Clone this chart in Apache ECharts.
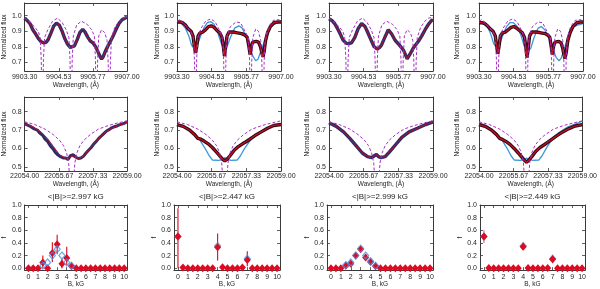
<!DOCTYPE html>
<html><head><meta charset="utf-8">
<script src="https://cdn.jsdelivr.net/npm/echarts@6/dist/echarts.min.js"></script>
<style>html,body{margin:0;padding:0;background:#fff}#c{width:600px;height:289px}</style>
</head><body><div id="c"></div>
<script>
// ---------- tick labels ----------
const wlTicksTop = [9903.30, 9904.5333, 9905.7667, 9907.00];
const wlTicksMid = [22054.00, 22055.6667, 22057.3333, 22059.00];
const fluxTicksTop = [0.7, 0.8, 0.9, 1.0];
const fluxTicksMid = [0.5, 0.6, 0.7, 0.8];
const fTicks = [0, 0.2, 0.4, 0.6, 0.8, 1.0];
const bTicks = [0,1,2,3,4,5,6,7,8,9,10];
const bMeanLabels = ['<|B|>=2.997 kG', '<|B|>=2.447 kG', '<|B|>=2.999 kG', '<|B|>=2.449 kG'];

// ---------- row 1 : 9903-9907 A ----------
const wlObs1 = [9903.30,9903.40,9903.50,9903.60,9903.70,9903.80,9903.90,9904.00,9904.08,9904.15,9904.25,9904.35,9904.45,9904.55,9904.65,9904.75,9904.85,9904.95,9905.02,9905.10,9905.20,9905.30,9905.40,9905.48,9905.58,9905.68,9905.78,9905.88,9905.96,9906.03,9906.08,9906.14,9906.22,9906.32,9906.42,9906.52,9906.62,9906.72,9906.82,9906.92,9907.00];
const fluxObs1 = [0.985,0.968,0.947,0.908,0.882,0.852,0.832,0.824,0.830,0.846,0.888,0.933,0.952,0.940,0.902,0.853,0.817,0.796,0.790,0.806,0.846,0.893,0.912,0.896,0.862,0.836,0.823,0.796,0.764,0.736,0.721,0.736,0.772,0.808,0.842,0.878,0.918,0.953,0.974,0.984,0.990];

const wlObs2 = [9903.30,9903.40,9903.50,9903.60,9903.70,9903.80,9903.87,9903.92,9903.96,9904.00,9904.05,9904.12,9904.22,9904.32,9904.42,9904.52,9904.62,9904.72,9904.82,9904.90,9904.95,9904.99,9905.03,9905.08,9905.15,9905.30,9905.45,9905.60,9905.72,9905.80,9905.86,9905.90,9905.94,9905.99,9906.05,9906.12,9906.20,9906.27,9906.32,9906.36,9906.40,9906.45,9906.52,9906.62,9906.75,9906.90,9907.00];
const fluxObs2 = [0.960,0.960,0.955,0.940,0.915,0.900,0.870,0.800,0.760,0.800,0.870,0.890,0.895,0.910,0.930,0.935,0.925,0.905,0.890,0.860,0.800,0.740,0.800,0.870,0.895,0.895,0.890,0.885,0.875,0.860,0.800,0.750,0.800,0.830,0.840,0.835,0.830,0.800,0.760,0.735,0.770,0.840,0.890,0.930,0.955,0.960,0.960];
const wlBlue2 = [9903.30,9903.45,9903.60,9903.72,9903.82,9903.92,9904.02,9904.12,9904.25,9904.38,9904.50,9904.62,9904.75,9904.88,9904.98,9905.08,9905.20,9905.35,9905.50,9905.62,9905.75,9905.88,9906.00,9906.10,9906.18,9906.28,9906.38,9906.50,9906.62,9906.75,9906.90,9907.00];
const fluxBlue2 = [0.960,0.950,0.920,0.870,0.810,0.790,0.810,0.860,0.920,0.955,0.962,0.945,0.890,0.820,0.785,0.800,0.860,0.920,0.935,0.920,0.870,0.800,0.740,0.710,0.720,0.770,0.820,0.880,0.925,0.945,0.955,0.960];

const wlObs3 = [9903.30,9903.40,9903.50,9903.60,9903.68,9903.80,9903.92,9904.00,9904.10,9904.22,9904.34,9904.46,9904.58,9904.66,9904.75,9904.90,9905.01,9905.10,9905.17,9905.29,9905.41,9905.53,9905.65,9905.80,9905.95,9906.04,9906.08,9906.18,9906.30,9906.48,9906.60,9906.72,9906.84,9906.94,9907.00];
const fluxObs3 = [0.980,0.970,0.950,0.918,0.890,0.843,0.822,0.820,0.825,0.860,0.918,0.950,0.930,0.900,0.862,0.802,0.786,0.795,0.812,0.862,0.910,0.882,0.842,0.812,0.778,0.740,0.722,0.752,0.792,0.835,0.870,0.910,0.945,0.968,0.975];

const wlObs4 = [9903.30,9903.40,9903.50,9903.60,9903.70,9903.80,9903.88,9903.93,9903.97,9904.01,9904.06,9904.14,9904.24,9904.34,9904.44,9904.54,9904.64,9904.74,9904.84,9904.92,9904.97,9905.01,9905.05,9905.10,9905.18,9905.35,9905.50,9905.65,9905.75,9905.82,9905.87,9905.91,9905.95,9906.00,9906.07,9906.14,9906.22,9906.28,9906.32,9906.36,9906.40,9906.46,9906.54,9906.64,9906.78,9906.92,9907.00];
const fluxObs4 = [0.955,0.955,0.950,0.935,0.915,0.900,0.870,0.800,0.755,0.800,0.870,0.890,0.895,0.910,0.925,0.930,0.920,0.905,0.890,0.860,0.790,0.730,0.790,0.870,0.895,0.895,0.890,0.885,0.875,0.860,0.800,0.750,0.800,0.830,0.840,0.835,0.825,0.790,0.750,0.725,0.760,0.840,0.890,0.930,0.955,0.960,0.960];
const wlBlue4 = [9903.30,9903.45,9903.60,9903.72,9903.82,9903.92,9904.02,9904.14,9904.28,9904.40,9904.52,9904.64,9904.78,9904.92,9905.04,9905.14,9905.26,9905.40,9905.52,9905.64,9905.78,9905.92,9906.05,9906.15,9906.22,9906.32,9906.44,9906.56,9906.68,9906.80,9906.92,9907.00];
const fluxBlue4 = [0.960,0.955,0.930,0.880,0.820,0.800,0.815,0.870,0.930,0.955,0.955,0.935,0.880,0.800,0.770,0.790,0.860,0.920,0.930,0.910,0.860,0.790,0.730,0.710,0.725,0.780,0.850,0.900,0.930,0.940,0.945,0.950];

const wlDashA = [9903.30,9903.51,9903.68,9903.80,9903.86,9903.90,9903.94,9903.98,9904.02,9904.14,9904.31,9904.49,9904.66,9904.80,9904.90,9904.94,9904.98,9905.02,9905.06,9905.18,9905.35,9905.56,9905.72,9905.82,9905.86,9905.90,9905.94,9905.98,9906.08,9906.20,9906.28,9906.32,9906.36,9906.40,9906.44,9906.56,9906.71,9906.85,9907.00];
const fluxDashA = [0.985,0.955,0.925,0.895,0.860,0.720,0.300,0.720,0.860,0.910,0.965,0.985,0.955,0.910,0.860,0.720,0.300,0.720,0.870,0.940,0.965,0.945,0.910,0.870,0.720,0.300,0.720,0.870,0.910,0.890,0.840,0.700,0.300,0.700,0.860,0.925,0.965,0.985,0.990];
const wlDashB = [9903.30,9903.40,9903.52,9903.65,9903.78,9903.88,9903.92,9903.96,9904.00,9904.04,9904.16,9904.32,9904.50,9904.66,9904.80,9904.92,9904.96,9905.00,9905.04,9905.08,9905.20,9905.40,9905.56,9905.72,9905.84,9905.88,9905.92,9905.96,9906.00,9906.10,9906.20,9906.28,9906.32,9906.36,9906.40,9906.44,9906.56,9906.72,9906.88,9907.00];
const fluxDashB = [0.965,0.975,0.955,0.930,0.900,0.860,0.720,0.300,0.720,0.860,0.920,0.965,0.980,0.960,0.910,0.860,0.720,0.300,0.720,0.870,0.930,0.960,0.955,0.900,0.860,0.720,0.300,0.720,0.860,0.915,0.900,0.840,0.700,0.300,0.700,0.860,0.930,0.970,0.975,0.970];

// ---------- row 2 : 22054-22059 A ----------
const wlObs5 = [22054.00,22054.12,22054.25,22054.38,22054.50,22054.62,22054.75,22054.88,22055.00,22055.12,22055.25,22055.38,22055.50,22055.62,22055.75,22055.88,22056.00,22056.12,22056.25,22056.38,22056.50,22056.62,22056.75,22056.88,22057.00,22057.12,22057.25,22057.38,22057.50,22057.62,22057.75,22057.88,22058.00,22058.12,22058.25,22058.38,22058.50,22058.62,22058.75,22058.88,22059.00];
const fluxObs5 = [0.735,0.728,0.722,0.712,0.705,0.700,0.682,0.672,0.650,0.638,0.615,0.598,0.578,0.565,0.555,0.548,0.548,0.540,0.562,0.565,0.552,0.545,0.548,0.558,0.575,0.590,0.605,0.625,0.638,0.655,0.668,0.682,0.695,0.702,0.712,0.718,0.722,0.728,0.732,0.738,0.745];
const wlFit5 = [22054.00,22054.40,22054.80,22055.10,22055.40,22055.70,22055.95,22056.15,22056.30,22056.45,22056.65,22056.90,22057.20,22057.50,22057.85,22058.25,22058.65,22059.00];
const fluxFit5 = [0.732,0.718,0.688,0.655,0.610,0.565,0.548,0.548,0.558,0.552,0.545,0.560,0.600,0.640,0.680,0.710,0.728,0.742];

const wlObs6 = [22054.00,22054.30,22054.60,22054.85,22055.00,22055.15,22055.30,22055.50,22055.70,22055.90,22056.05,22056.20,22056.30,22056.40,22056.55,22056.75,22056.95,22057.15,22057.30,22057.50,22057.75,22058.05,22058.35,22058.65,22059.00];
const fluxObs6 = [0.730,0.720,0.700,0.675,0.655,0.650,0.640,0.625,0.605,0.580,0.560,0.540,0.532,0.540,0.560,0.590,0.610,0.625,0.635,0.650,0.670,0.690,0.710,0.725,0.730];
const wlBlue6 = [22054.00,22054.40,22054.80,22055.10,22055.35,22055.55,22055.70,22056.00,22056.20,22056.30,22056.40,22056.60,22056.90,22057.05,22057.25,22057.50,22057.85,22058.30,22058.70,22059.00];
const fluxBlue6 = [0.730,0.715,0.680,0.645,0.600,0.560,0.537,0.535,0.540,0.550,0.540,0.535,0.537,0.560,0.600,0.640,0.680,0.710,0.725,0.735];

const wlObs7 = [22054.00,22054.35,22054.70,22055.00,22055.30,22055.60,22055.85,22056.05,22056.18,22056.28,22056.38,22056.50,22056.70,22056.90,22057.20,22057.50,22057.85,22058.25,22058.65,22059.00];
const fluxObs7 = [0.740,0.720,0.690,0.655,0.615,0.575,0.555,0.550,0.560,0.567,0.555,0.550,0.555,0.580,0.620,0.660,0.690,0.710,0.730,0.745];

const wlObs8 = [22054.00,22054.30,22054.60,22054.85,22055.00,22055.15,22055.30,22055.50,22055.70,22055.90,22056.05,22056.20,22056.30,22056.40,22056.55,22056.75,22056.95,22057.15,22057.30,22057.50,22057.75,22058.05,22058.35,22058.65,22059.00];
const fluxObs8 = [0.730,0.720,0.700,0.675,0.655,0.648,0.638,0.622,0.600,0.575,0.555,0.535,0.525,0.535,0.555,0.585,0.605,0.620,0.632,0.648,0.668,0.690,0.708,0.722,0.730];
const wlBlue8 = [22054.00,22054.40,22054.80,22055.10,22055.35,22055.55,22055.70,22056.00,22056.20,22056.30,22056.40,22056.60,22056.90,22057.05,22057.25,22057.50,22057.85,22058.30,22058.70,22059.00];
const fluxBlue8 = [0.740,0.722,0.685,0.648,0.602,0.560,0.537,0.535,0.540,0.548,0.540,0.535,0.537,0.560,0.600,0.645,0.685,0.718,0.735,0.748];

const wlDashR2 = [22054.00,22054.50,22055.00,22055.40,22055.70,22055.90,22056.05,22056.15,22056.30,22056.45,22056.55,22056.70,22056.90,22057.20,22057.60,22058.10,22058.60,22059.00];
const fluxDashR2 = [0.745,0.730,0.705,0.675,0.645,0.615,0.575,0.520,0.250,0.520,0.575,0.615,0.645,0.675,0.705,0.725,0.740,0.750];

// ---------- row 3 : field distributions (null = no open marker) ----------
const bField = [0,0.5,1,1.5,2,2.5,3,3.5,4,4.5,5,5.5,6,6.5,7,7.5,8,8.5,9,9.5,10];
const fRed1  = [0,0,0,0.09,0,0.24,0.38,0.07,0.16,0.03,0,0,0,0,0,0,0,0,0,0,0];
const fBlue1 = [null,null,null,0.04,0.09,0.20,0.30,0.20,0.09,0.04,null,null,null,null,null,null,null,null,null,null,null];
const errB1 = [1.5,2.5,3,3.5,4,4.5], errLo1 = [0,0.10,0.22,0,0.05,0], errHi1 = [0.20,0.41,0.53,0.15,0.34,0.06];
const fRed2  = [0.5,0.01,0,0,0,0,0,0,0.33,0.015,0,0,0,0.01,0.13,0,0,0,0,0,0];
const fBlue2 = [0.5,null,null,null,null,null,null,null,0.35,null,null,null,null,null,0.15,null,null,null,null,null,null];
const errB2 = [0,4,7], errLo2 = [0,0.12,0.03], errHi2 = [0.95,0.55,0.27];
const fRed3  = [0,0,0,0.04,0.07,0.20,0.30,0.17,0.10,0.03,0,0,0,0,0,0,0,0,0,0,0];
const fBlue3 = [null,null,null,0.05,0.09,0.20,0.31,0.20,0.11,0.04,null,null,null,null,null,null,null,null,null,null,null];
const errB3 = [1.5,2,2.5,3,3.5,4,4.5], errLo3 = [0,0.02,0.16,0.26,0.12,0.05,0], errHi3 = [0.10,0.12,0.24,0.34,0.22,0.15,0.06];
const fRed4  = [0.5,0.005,0,0,0,0,0,0,0.34,0.005,0,0,0,0.005,0.14,0,0,0,0,0,0];
const fBlue4 = [0.5,null,null,null,null,null,null,null,0.35,null,null,null,null,null,0.15,null,null,null,null,null,null];
const errB4 = [0,4,7], errLo4 = [0.40,0.29,0.08], errHi4 = [0.60,0.41,0.20];

// ---------- layout / style ----------
const zip = (a, b) => a.map((v, i) => [v, b[i]]);
const FONT = 'Liberation Sans, Arial, sans-serif';
const TXT = '#262626';
const AX = '#3a3a3a';
const RED = '#c40e24', BLUE = '#3b97da', DASH = '#a52fc6';
const colsTop = [[21,106],[177,104],[329,104],[479,104]];
const colsBot = [[21,106],[174,106],[327,106],[480,105]];
const rows = [[3,68],[97,74],[205,67]];
const yNameGap = [12, 16, 18, 18];

const grids = [], xAxes = [], yAxes = [], series = [];

function panel(r, c, cfg) {
  const g = grids.length;
  const [left, width] = r === 2 ? colsBot[c] : colsTop[c];
  const [top, height] = rows[r];
  grids.push({left, top, width, height});
  const line = {show: true, onZero: false, lineStyle: {color: AX, width: 1}};
  const tk = v => ({show: true, inside: true, length: 3, customValues: v, lineStyle: {color: AX, width: 0.8}});
  const nameStyle = {fontSize: 6.5, color: TXT, fontFamily: FONT};
  xAxes.push({gridIndex: g, type: 'value', position: 'bottom', min: cfg.xmin, max: cfg.xmax,
    axisLine: line, axisTick: tk(cfg.xticks), splitLine: {show: false},
    axisLabel: {customValues: cfg.xticks, formatter: cfg.xfmt, fontSize: 7, color: TXT, fontFamily: FONT, margin: cfg.xmargin},
    name: cfg.xname, nameLocation: 'middle', nameGap: cfg.xgap, nameTextStyle: nameStyle});
  xAxes.push({gridIndex: g, type: 'value', position: 'top', min: cfg.xmin, max: cfg.xmax,
    axisLine: line, axisTick: tk(cfg.xticks), splitLine: {show: false}, axisLabel: {show: false},
    name: cfg.title || '', nameLocation: 'middle', nameGap: 4,
    nameTextStyle: {fontSize: 8, color: TXT, fontFamily: FONT}});
  yAxes.push({gridIndex: g, type: 'value', position: 'left', min: cfg.ymin, max: cfg.ymax,
    axisLine: line, axisTick: tk(cfg.yticks), splitLine: {show: false},
    axisLabel: {customValues: cfg.yticks, formatter: v => v.toFixed(1), fontSize: 7, color: TXT, fontFamily: FONT, margin: 3},
    name: cfg.yname, nameLocation: 'middle', nameGap: cfg.ygap, nameRotate: 90, nameTextStyle: nameStyle});
  yAxes.push({gridIndex: g, type: 'value', position: 'right', min: cfg.ymin, max: cfg.ymax,
    axisLine: line, axisTick: tk(cfg.yticks), splitLine: {show: false}, axisLabel: {show: false}});
  return {xAxisIndex: 2 * g, yAxisIndex: 2 * g};
}

function lineS(ax, wl, fl, color, width, dashed, z) {
  series.push(Object.assign({type: 'line', data: zip(wl, fl), symbol: 'none', showSymbol: false, clip: true,
    silent: true, z: z, lineStyle: {color: color, width: width, type: dashed ? [3, 2] : 'solid'}}, ax));
}

const topCfg = c => ({xmin: 9903.30, xmax: 9907.00, xticks: wlTicksTop, xfmt: v => v.toFixed(2), xmargin: 3,
  xname: 'Wavelength, (Å)', xgap: 9, ymin: 0.644, ymax: 1.082, yticks: fluxTicksTop,
  yname: 'Normalized flux', ygap: yNameGap[c]});
const midCfg = c => ({xmin: 22054.00, xmax: 22059.00, xticks: wlTicksMid, xfmt: v => v.toFixed(2), xmargin: 2,
  xname: 'Wavelength, (Å)', xgap: 9, ymin: 0.477, ymax: 0.88, yticks: fluxTicksMid,
  yname: 'Normalized flux', ygap: yNameGap[c]});
const botCfg = c => ({xmin: -0.4, xmax: 10.3, xticks: bTicks, xfmt: v => String(v), xmargin: 3,
  xname: 'B, kG', xgap: 10, ymin: -0.03, ymax: 1.0, yticks: fTicks,
  yname: 'f', ygap: 14 + (c > 0 ? 2 : 0), title: bMeanLabels[c]});

// row 1
const NAVY = '#2e2b66', DARK = '#2b0b14';
let ax;
ax = panel(0, 0, topCfg(0));
lineS(ax, wlObs1, fluxObs1, BLUE, 1.2, false, 2);
lineS(ax, wlObs1, fluxObs1, NAVY, 3.4, false, 3);
lineS(ax, wlObs1, fluxObs1, RED, 0.9, false, 4);
lineS(ax, wlDashA, fluxDashA, DASH, 1, true, 5);

ax = panel(0, 1, topCfg(1));
lineS(ax, wlBlue2, fluxBlue2, BLUE, 1.3, false, 2);
lineS(ax, wlObs2, fluxObs2, DARK, 3.4, false, 3);
lineS(ax, wlObs2, fluxObs2, RED, 1.3, false, 4);
lineS(ax, wlDashB, fluxDashB, DASH, 1, true, 5);

ax = panel(0, 2, topCfg(2));
lineS(ax, wlObs3, fluxObs3, BLUE, 1.2, false, 2);
lineS(ax, wlObs3, fluxObs3, NAVY, 3.4, false, 3);
lineS(ax, wlObs3, fluxObs3, RED, 0.9, false, 4);
lineS(ax, wlDashA, fluxDashA, DASH, 1, true, 5);

ax = panel(0, 3, topCfg(3));
lineS(ax, wlBlue4, fluxBlue4, BLUE, 1.3, false, 2);
lineS(ax, wlObs4, fluxObs4, DARK, 3.4, false, 3);
lineS(ax, wlObs4, fluxObs4, RED, 1.3, false, 4);
lineS(ax, wlDashB, fluxDashB, DASH, 1, true, 5);

// row 2
ax = panel(1, 0, midCfg(0));
lineS(ax, wlFit5, fluxFit5, BLUE, 1.2, false, 2);
lineS(ax, wlObs5, fluxObs5, NAVY, 3.0, false, 3);
lineS(ax, wlFit5, fluxFit5, RED, 1.0, false, 4);
lineS(ax, wlDashR2, fluxDashR2, DASH, 1, true, 5);

ax = panel(1, 1, midCfg(1));
lineS(ax, wlBlue6, fluxBlue6, BLUE, 1.3, false, 2);
lineS(ax, wlObs6, fluxObs6, DARK, 3.4, false, 3);
lineS(ax, wlObs6, fluxObs6, RED, 1.3, false, 4);
lineS(ax, wlDashR2, fluxDashR2, DASH, 1, true, 5);

ax = panel(1, 2, midCfg(2));
lineS(ax, wlObs7, fluxObs7, BLUE, 1.2, false, 2);
lineS(ax, wlObs7, fluxObs7, NAVY, 3.4, false, 3);
lineS(ax, wlObs7, fluxObs7, RED, 0.9, false, 4);
lineS(ax, wlDashR2, fluxDashR2, DASH, 1, true, 5);

ax = panel(1, 3, midCfg(3));
lineS(ax, wlBlue8, fluxBlue8, BLUE, 1.3, false, 2);
lineS(ax, wlObs8, fluxObs8, DARK, 3.4, false, 3);
lineS(ax, wlObs8, fluxObs8, RED, 1.3, false, 4);
lineS(ax, wlDashR2, fluxDashR2, DASH, 1, true, 5);

// row 3
function errS(ax, xs, lo, hi, color) {
  series.push(Object.assign({type: 'custom', silent: true, z: 2,
    data: xs.map((x, i) => [x, lo[i], hi[i]]), encode: {x: 0, y: [1, 2]},
    renderItem: (p, api) => {
      const a = api.coord([api.value(0), api.value(1)]);
      const b = api.coord([api.value(0), api.value(2)]);
      return {type: 'line', shape: {x1: a[0], y1: a[1], x2: b[0], y2: b[1]},
        style: {stroke: color, lineWidth: 1.2}};
    }}, ax));
}
function dots(ax, ys, filled, color, z) {
  const data = bField.map((b, i) => ys[i] === null ? null : [b, ys[i]]).filter(d => d !== null);
  series.push(Object.assign({type: 'scatter', data: data, symbol: 'diamond', symbolSize: filled ? [7, 8] : [6, 7],
    silent: true, z: z, clip: false,
    itemStyle: filled ? {color: color, opacity: 1} : {color: 'rgba(0,0,0,0)', borderColor: color, borderWidth: 1.2}}, ax));
}
const ERR = ['#d81d2e', '#d81d2e', '#ee7a60', '#e66a85'];
const reds = [fRed1, fRed2, fRed3, fRed4], blues = [fBlue1, fBlue2, fBlue3, fBlue4];
const errs = [[errB1, errLo1, errHi1], [errB2, errLo2, errHi2], [errB3, errLo3, errHi3], [errB4, errLo4, errHi4]];
for (let c = 0; c < 4; c++) {
  ax = panel(2, c, botCfg(c));
  errS(ax, errs[c][0], errs[c][1], errs[c][2], ERR[c]);
  const blueOnTop = (c === 0 || c === 2);
  dots(ax, blues[c], false, '#4a8fe0', blueOnTop ? 5 : 3);
  dots(ax, reds[c], true, '#dc0a22', 4);
}

const chart = echarts.init(document.getElementById('c'), null, {renderer: 'canvas'});
chart.setOption({animation: false, backgroundColor: '#ffffff', grid: grids, xAxis: xAxes, yAxis: yAxes, series: series});
</script></body></html>
